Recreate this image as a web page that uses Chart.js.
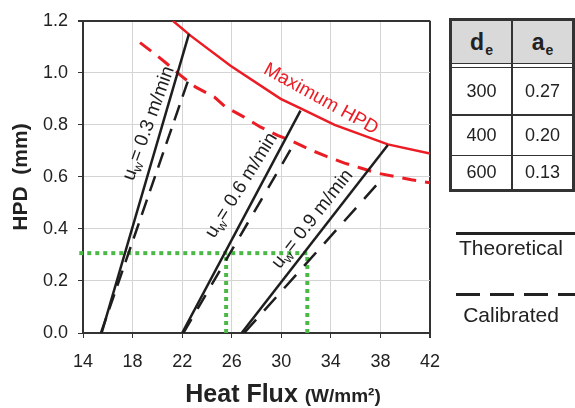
<!DOCTYPE html>
<html>
<head>
<meta charset="utf-8">
<script src="https://cdn.jsdelivr.net/npm/chart.js@4.4.0/dist/chart.umd.min.js"></script>
<style>
body { margin: 0; background: #fff; font-family: "Liberation Sans", Arial, sans-serif; color: #222; }
#wrap { position: relative; width: 575px; height: 408px; overflow: hidden; }
#hpd { position: absolute; left: 0; top: 0; }
#tbl { position: absolute; left: 449px; top: 18px; width: 120px; height: 168px; border: 3px solid #333; }
#tbl .cell { position: absolute; display: flex; align-items: center; justify-content: center; font-size: 18px; }
#tbl .hd { background: #d9d9d9; font-weight: bold; font-size: 23px; }
#tbl .hd sub { font-size: 14px; vertical-align: -5px; margin-left: 1px; line-height: 0; }
.legline { position: absolute; left: 456px; width: 120px; height: 3px; }
.legtxt { position: absolute; left: 456px; width: 110px; text-align: center; font-size: 21px; }
</style>
</head>
<body>
<div id="wrap">
  <canvas id="hpd" width="575" height="408"></canvas>
  <div id="tbl"></div>
  <div class="legline" style="top:232px;background:#222"></div>
  <div class="legtxt" style="top:236px">Theoretical</div>
  <div class="legline" style="top:293px;background:repeating-linear-gradient(to right,#222 0 24px,transparent 24px 34px)"></div>
  <div class="legtxt" style="top:303px">Calibrated</div>
</div>
<script>
// axis ticks
const xTicks = [14, 18, 22, 26, 30, 34, 38, 42];
const yTicks = [0, 0.2, 0.4, 0.6, 0.8, 1.0, 1.2];

// theoretical lines (solid), one per wire speed
const theo03X = [15.5, 22.55], theo03Y = [0, 1.15];
const theo06X = [22.0, 31.55], theo06Y = [0, 0.855];
const theo09X = [26.8, 38.6], theo09Y = [0, 0.723];

// calibrated lines (dashed)
const cal03X = [15.45, 22.45], cal03Y = [0, 0.966];
const cal06X = [22.1, 31.0], cal06Y = [0, 0.725];
const cal09X = [27.0, 37.8], cal09Y = [0, 0.575];

// maximum HPD curves
const maxTheoX = [21.25, 22.7, 25.9, 29.95, 31.6, 34.3, 38.6, 42.0];
const maxTheoY = [1.2, 1.142, 1.027, 0.90, 0.862, 0.80, 0.725, 0.69];
const maxCalX = [18.6, 20.0, 20.8, 21.9, 23.1, 24.6, 25.5, 27.0, 28.3, 29.7, 31.0, 32.4, 33.7, 35.1, 36.4, 37.8, 39.1, 40.5, 42.0];
const maxCalY = [1.116, 1.065, 1.034, 0.989, 0.945, 0.907, 0.869, 0.83, 0.792, 0.76, 0.735, 0.703, 0.678, 0.653, 0.634, 0.614, 0.602, 0.589, 0.577];

// green guide lines
const guideHX = [13.7, 32.1], guideHY = [0.307, 0.307];
const guideV1X = [25.55, 25.55], guideV1Y = [0, 0.307];
const guideV2X = [32.1, 32.1], guideV2Y = [0, 0.307];

// table
const tblDiam = ['300', '400', '600'];
const tblCoef = ['0.27', '0.20', '0.13'];

// in-plot labels
const speeds = ['0.3', '0.6', '0.9'];
const speedAt = [[19.17, 0.808, -70], [26.67, 0.571, -58], [32.4, 0.442, -52]];

const pts = (xs, ys) => xs.map((v, i) => ({x: v, y: ys[i]}));

const BLACK = "#1e1e1e";
const RED = "#ec1c24";
const GREEN = "#4cb848";

function line(xs, ys, color, width, dash, noClip) {
    return {
        data: pts(xs, ys),
        showLine: true,
        borderColor: color,
        backgroundColor: color,
        borderWidth: width,
        borderDash: dash || [],
        pointRadius: 0,
        tension: 0,
        fill: false,
        clip: noClip ? false : undefined
    };
}

const datasets = [
    line(theo03X, theo03Y, BLACK, 2.5),
    line(theo06X, theo06Y, BLACK, 2.5),
    line(theo09X, theo09Y, BLACK, 2.5),
    line(cal03X, cal03Y, BLACK, 2.5, [16, 9]),
    line(cal06X, cal06Y, BLACK, 2.5, [16, 12]),
    line(cal09X, cal09Y, BLACK, 2.5, [18, 12]),
    line(maxTheoX, maxTheoY, RED, 2.5),
    line(maxCalX, maxCalY, RED, 3, [14, 9]),
    line(guideHX, guideHY, GREEN, 4, [4, 4], true),
    line(guideV1X, guideV1Y, GREEN, 4, [4, 4]),
    line(guideV2X, guideV2Y, GREEN, 4, [4, 4])
];

const FONT = '"Liberation Sans", Arial, sans-serif';

function drawSpeed(ctx, px, py, deg, val) {
    ctx.save();
    ctx.translate(px, py);
    ctx.rotate(deg * Math.PI / 180);
    ctx.fillStyle = BLACK;
    ctx.textBaseline = "alphabetic";
    const main = "19px " + FONT, small = "13px " + FONT;
    const rest = "= " + val + " m/min";
    ctx.font = main;
    const wu = ctx.measureText("u").width, wr = ctx.measureText(rest).width;
    ctx.font = small;
    const ww = ctx.measureText("w").width;
    let cx = -(wu + ww + wr) / 2;
    ctx.font = main;
    ctx.fillText("u", cx, 7);
    cx += wu;
    ctx.font = small;
    ctx.fillText("w", cx, 11);
    cx += ww;
    ctx.font = main;
    ctx.fillText(rest, cx, 7);
    ctx.restore();
}

const annotate = {
    id: "annotate",
    afterDatasetsDraw(chart) {
        const ctx = chart.ctx;
        const x = chart.scales.x, y = chart.scales.y;
        speeds.forEach((s, i) => {
            const a = speedAt[i];
            drawSpeed(ctx, x.getPixelForValue(a[0]), y.getPixelForValue(a[1]), a[2], s);
        });
        ctx.save();
        ctx.translate(x.getPixelForValue(33.2), y.getPixelForValue(0.899));
        ctx.rotate(29 * Math.PI / 180);
        ctx.fillStyle = RED;
        ctx.font = "19px " + FONT;
        ctx.textAlign = "center";
        ctx.textBaseline = "middle";
        ctx.fillText("Maximum HPD", 0, 0);
        ctx.restore();
    },
    afterDraw(chart) {
        const ctx = chart.ctx;
        ctx.save();
        ctx.fillStyle = "#222";
        // y title
        ctx.translate(21, 177);
        ctx.rotate(-Math.PI / 2);
        ctx.font = "bold 21px " + FONT;
        ctx.textAlign = "center";
        ctx.textBaseline = "middle";
        ctx.fillText("HPD  (mm)", 0, 0);
        ctx.restore();
        // x title
        ctx.save();
        ctx.fillStyle = "#222";
        ctx.textBaseline = "alphabetic";
        const big = "bold 25px " + FONT, sm = "bold 19px " + FONT;
        ctx.font = big;
        const w1 = ctx.measureText("Heat Flux ").width;
        ctx.font = sm;
        const w2 = ctx.measureText("(W/mm\u00B2)").width;
        let sx = 283 - (w1 + w2) / 2;
        ctx.font = big;
        ctx.fillText("Heat Flux ", sx, 402);
        ctx.font = sm;
        ctx.fillText("(W/mm\u00B2)", sx + w1, 402);
        ctx.restore();
    }
};

new Chart(document.getElementById("hpd"), {
    type: "scatter",
    data: {datasets: datasets},
    plugins: [annotate],
    options: {
        responsive: false,
        animation: false,
        layout: {padding: {left: 0, top: 18, right: 145, bottom: 0}},
        plugins: {legend: {display: false}, tooltip: {enabled: false}},
        scales: {
            x: {
                type: "linear",
                min: 14,
                max: 42,
                afterBuildTicks: (s) => { s.ticks = xTicks.map(v => ({value: v})); },
                afterFit: (s) => { s.height = 75; },
                border: {color: "#333", width: 2},
                grid: {
                    color: (c) => c.tick && c.tick.value === 42 ? "#333" : "#d4d4d4",
                    lineWidth: (c) => c.tick && c.tick.value === 42 ? 2 : 1,
                    tickColor: "#333",
                    tickLength: 5
                },
                ticks: {color: "#222", font: {size: 18, family: FONT}, padding: 13, maxRotation: 0}
            },
            y: {
                type: "linear",
                min: 0,
                max: 1.2,
                afterBuildTicks: (s) => { s.ticks = yTicks.map(v => ({value: v})); },
                afterFit: (s) => { s.width = 83; },
                border: {color: "#333", width: 2},
                grid: {
                    color: (c) => c.tick && c.tick.value === 1.2 ? "#333" : "#d4d4d4",
                    lineWidth: (c) => c.tick && c.tick.value === 1.2 ? 2 : 1,
                    tickColor: "#333",
                    tickLength: 5
                },
                ticks: {color: "#222", font: {size: 18, family: FONT}, padding: 10, callback: (v) => v.toFixed(1)}
            }
        }
    }
});

// table built from the arrays
const tbl = document.getElementById("tbl");
function cell(left, top, w, h, html, extra) {
    const d = document.createElement("div");
    d.className = "cell" + (extra ? " " + extra : "");
    d.style.left = left + "px";
    d.style.top = top + "px";
    d.style.width = w + "px";
    d.style.height = h + "px";
    if (html) d.innerHTML = "<span>" + html + "</span>";
    tbl.appendChild(d);
    return d;
}
const rowTop = [47, 95, 135], rowH = [46, 39, 33];
cell(0, 0, 120, 42, "", "hd");
cell(0, 0, 59, 42, "d<sub>e</sub>", "hd");
cell(61, 0, 59, 42, "a<sub>e</sub>", "hd");
const dbl = cell(0, 42, 120, 5, "");
dbl.style.borderTop = "1.5px solid #333";
dbl.style.borderBottom = "1.5px solid #333";
dbl.style.boxSizing = "border-box";
const vline = cell(59, 0, 2, 168, "");
vline.style.background = "#333";
tblDiam.forEach((d, i) => {
    cell(0, rowTop[i], 59, rowH[i], d);
    cell(61, rowTop[i], 59, rowH[i], tblCoef[i]);
    if (i < tblDiam.length - 1) {
        const sep = cell(0, rowTop[i] + rowH[i], 120, i === 0 ? 2 : 1, "");
        sep.style.background = "#333";
    }
});
</script>
</body>
</html>
